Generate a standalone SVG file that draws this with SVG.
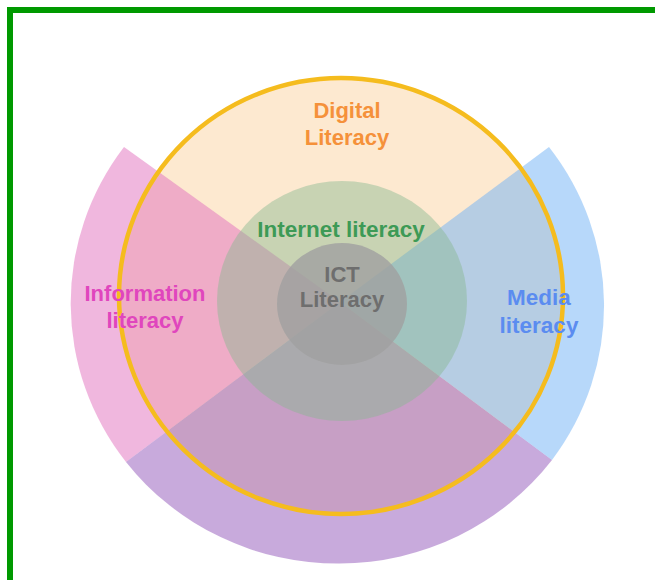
<svg xmlns="http://www.w3.org/2000/svg" width="655" height="580" viewBox="0 0 655 580">
<style>
text{font-family:"Liberation Sans",Arial,sans-serif;font-weight:bold;text-anchor:middle}
.sector{stroke:none}
</style>
<rect width="655" height="580" fill="#ffffff"/>
<path d="M10 580 V10 H655" fill="none" stroke="#009900" stroke-width="6"/>
<g id="digital-literacy-fill">
<ellipse cx="341" cy="296" rx="222" ry="218" fill="#fde9d0"/>
</g>
<g id="information-literacy">
<path class="sector" d="M340 302 L124 147 A268 261 0 0 0 126 462 Z" fill="#e16fbd" fill-opacity="0.5"/>
</g>
<g id="bottom-sector">
<path class="sector" d="M340 302 L126 462 A268 261 0 0 0 552 460 Z" fill="#9155b9" fill-opacity="0.5"/>
</g>
<g id="media-literacy">
<path class="sector" d="M340 302 L552 460 A268 261 0 0 0 549 147 Z" fill="#6fb1f5" fill-opacity="0.5"/>
</g>
<g id="internet-literacy">
<ellipse cx="342" cy="301" rx="125" ry="120" fill="#88b890" fill-opacity="0.45"/>
</g>
<g id="ict-literacy">
<ellipse cx="342" cy="304" rx="65" ry="61" fill="#a0a0a0" fill-opacity="0.8"/>
</g>
<g id="digital-literacy">
<ellipse cx="341" cy="296" rx="222" ry="218" fill="none" stroke="#f5bc1e" stroke-width="4.5"/>
</g>
<g id="labels">
<text x="347" y="118" font-size="22" fill="#f5913a">Digital</text>
<text x="347" y="145" font-size="22" fill="#f5913a">Literacy</text>
<text x="341" y="237" font-size="22.5" fill="#3d9a56">Internet literacy</text>
<text x="342" y="282" font-size="22" fill="#6e6e6e">ICT</text>
<text x="342" y="307" font-size="22" fill="#6e6e6e">Literacy</text>
<text x="145" y="301" font-size="22" fill="#e046bd">Information</text>
<text x="145" y="328" font-size="22" fill="#e046bd">literacy</text>
<text x="539" y="305" font-size="22.5" fill="#5b8cf0">Media</text>
<text x="539" y="333" font-size="22.5" fill="#5b8cf0">literacy</text>
</g>
</svg>
